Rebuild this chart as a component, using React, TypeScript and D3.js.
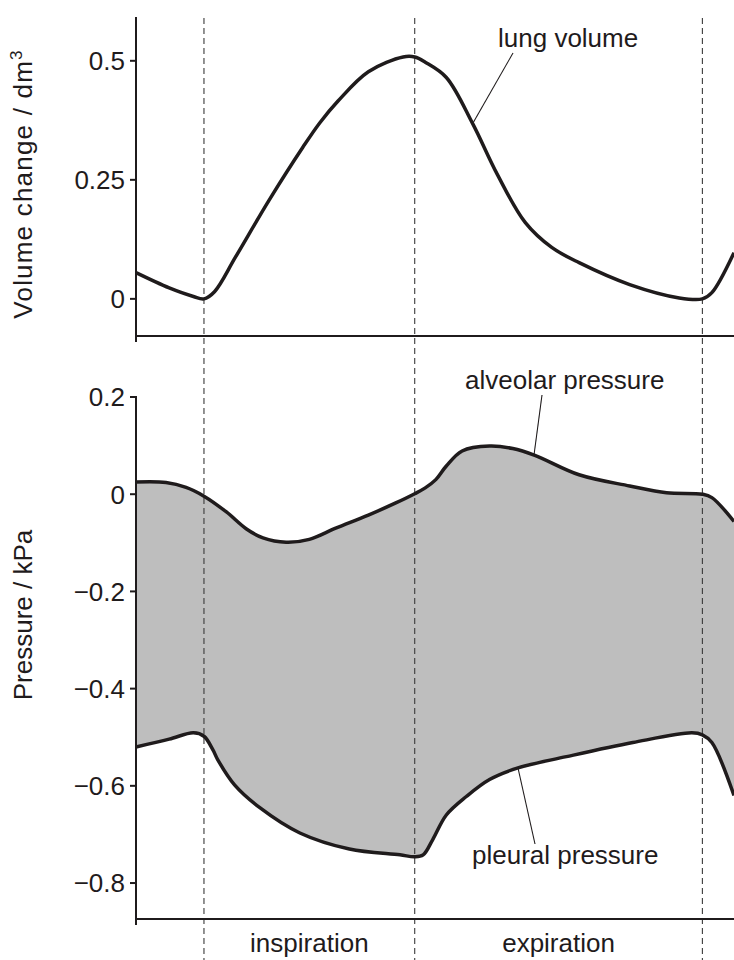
import React from "react";
import * as d3 from "d3";

// Phase boundaries (s) and labels
const phaseBoundaries = [0, 2, 4.73];
const phaseLabels = ["inspiration", "expiration"];

// Lung volume change (dm^3)
const volTime = [-0.645, -0.33, -0.1, 0, 0.1, 0.3, 0.62, 0.94, 1.1, 1.27, 1.56, 1.89, 2.0, 2.1, 2.3, 2.55, 2.78, 3.05, 3.3, 3.56, 4.04, 4.51, 4.73, 4.82, 5.03];
const volValues = [0.055, 0.023, 0.005, 0.0, 0.015, 0.088, 0.208, 0.319, 0.37, 0.415, 0.477, 0.508, 0.508, 0.497, 0.465, 0.368, 0.263, 0.16, 0.108, 0.076, 0.03, 0.002, 0.0, 0.013, 0.097];

// Alveolar pressure (kPa)
const alvTime = [-0.645, -0.36, -0.17, 0, 0.21, 0.4, 0.56, 0.78, 1.0, 1.25, 1.56, 1.82, 2.0, 2.1, 2.2, 2.3, 2.45, 2.71, 2.93, 3.14, 3.56, 4.04, 4.39, 4.73, 4.82, 5.03];
const alvValues = [0.025, 0.024, 0.014, -0.004, -0.036, -0.071, -0.09, -0.099, -0.093, -0.07, -0.043, -0.018, 0.001, 0.013, 0.03, 0.058, 0.089, 0.099, 0.094, 0.08, 0.04, 0.017, 0.003, 0.0, -0.007, -0.056];

// Pleural pressure (kPa)
const plTime = [-0.645, -0.33, -0.1, 0, 0.085, 0.13, 0.29, 0.53, 0.91, 1.38, 1.86, 2.0, 2.08, 2.17, 2.3, 2.49, 2.71, 2.98, 3.44, 4.07, 4.63, 4.73, 4.82, 5.03];
const plValues = [-0.52, -0.504, -0.491, -0.498, -0.526, -0.546, -0.598, -0.645, -0.697, -0.73, -0.742, -0.746, -0.742, -0.711, -0.66, -0.622, -0.587, -0.563, -0.54, -0.511, -0.491, -0.495, -0.511, -0.62];

// Ticks
const volTicks = [0, 0.25, 0.5];
const volTickLabels = ["0", "0.25", "0.5"];
const presTicks = [0.2, 0, -0.2, -0.4, -0.6, -0.8];
const presTickLabels = ["0.2", "0", "\u22120.2", "\u22120.4", "\u22120.6", "\u22120.8"];

const FONT = "'Liberation Sans', Arial, Helvetica, sans-serif";
const INK = "#1f1b1c";

export default function App() {
  const W = 734;
  const H = 960;
  const x = d3.scaleLinear().domain([-0.645, 5.03]).range([136, 734]);
  const yV = d3.scaleLinear().domain([-0.078, 0.592]).range([336, 17]);
  const yP = d3.scaleLinear().domain([-0.874, 0.2]).range([919, 397]);

  const volPts: [number, number][] = volTime.map((t, i) => [x(t), yV(volValues[i])]);
  const alvPts: [number, number][] = alvTime.map((t, i) => [x(t), yP(alvValues[i])]);
  const plPts: [number, number][] = plTime.map((t, i) => [x(t), yP(plValues[i])]);

  const line = d3.line().curve(d3.curveCatmullRom.alpha(0.5));
  const volPath = line(volPts) || "";
  const alvPath = line(alvPts) || "";
  const plPath = line(plPts) || "";
  const plRev = line(plPts.slice().reverse()) || "";
  const fillPath = alvPath + "L" + plRev.slice(1) + "Z";

  const txt = { fontFamily: FONT, fontSize: 26, fill: INK } as const;

  return (
    <svg
      width={W}
      height={H}
      style={{ position: "absolute", left: 0, top: 0, background: "#fff" }}
    >
      <path d={fillPath} fill="#bebebe" stroke="none" />

      {phaseBoundaries.map((t, i) => (
        <line
          key={"ph" + i}
          x1={x(t)}
          x2={x(t)}
          y1={18}
          y2={H}
          stroke="#3a3a3a"
          strokeWidth={1.1}
          strokeDasharray="6 4"
        />
      ))}

      <path d={volPath} fill="none" stroke={INK} strokeWidth={3.5} strokeLinejoin="round" />
      <path d={alvPath} fill="none" stroke={INK} strokeWidth={3.5} strokeLinejoin="round" />
      <path d={plPath} fill="none" stroke={INK} strokeWidth={3.5} strokeLinejoin="round" />

      <line x1={136} x2={136} y1={17} y2={342} stroke={INK} strokeWidth={2} />
      <line x1={135} x2={W} y1={336} y2={336} stroke={INK} strokeWidth={2} />
      {volTicks.map((v, i) => (
        <g key={"vt" + i}>
          <line x1={130} x2={136} y1={yV(v)} y2={yV(v)} stroke={INK} strokeWidth={2} />
          <text x={125} y={yV(v)} dy="0.36em" textAnchor="end" style={txt}>
            {volTickLabels[i]}
          </text>
        </g>
      ))}
      <text
        transform={`translate(32,${184}) rotate(-90)`}
        textAnchor="middle"
        style={{ ...txt, letterSpacing: 1.2 }}
      >
        Volume change / dm
        <tspan dy={-10} fontSize={17}>3</tspan>
      </text>

      <line x1={136} x2={136} y1={396} y2={925} stroke={INK} strokeWidth={2} />
      <line x1={135} x2={W} y1={919} y2={919} stroke={INK} strokeWidth={2} />
      {presTicks.map((v, i) => (
        <g key={"pt" + i}>
          <line x1={130} x2={136} y1={yP(v)} y2={yP(v)} stroke={INK} strokeWidth={2} />
          <text x={125} y={yP(v)} dy="0.36em" textAnchor="end" style={txt}>
            {presTickLabels[i]}
          </text>
        </g>
      ))}
      <text
        transform={`translate(32,${615}) rotate(-90)`}
        textAnchor="middle"
        style={txt}
      >
        Pressure / kPa
      </text>

      <text x={498} y={47} style={txt}>lung volume</text>
      <line x1={513} y1={53} x2={473} y2={123} stroke={INK} strokeWidth={1.1} />

      <text x={465} y={389} style={txt}>alveolar pressure</text>
      <line x1={542} y1={395} x2={534} y2={455} stroke={INK} strokeWidth={1.1} />

      <text x={472} y={864} style={txt}>pleural pressure</text>
      <line x1={535} y1={844} x2={518} y2={768} stroke={INK} strokeWidth={1.1} />

      {phaseLabels.map((lab, i) => (
        <text
          key={"pl" + i}
          x={(x(phaseBoundaries[i]) + x(phaseBoundaries[i + 1])) / 2}
          y={952}
          textAnchor="middle"
          style={txt}
        >
          {lab}
        </text>
      ))}
    </svg>
  );
}
